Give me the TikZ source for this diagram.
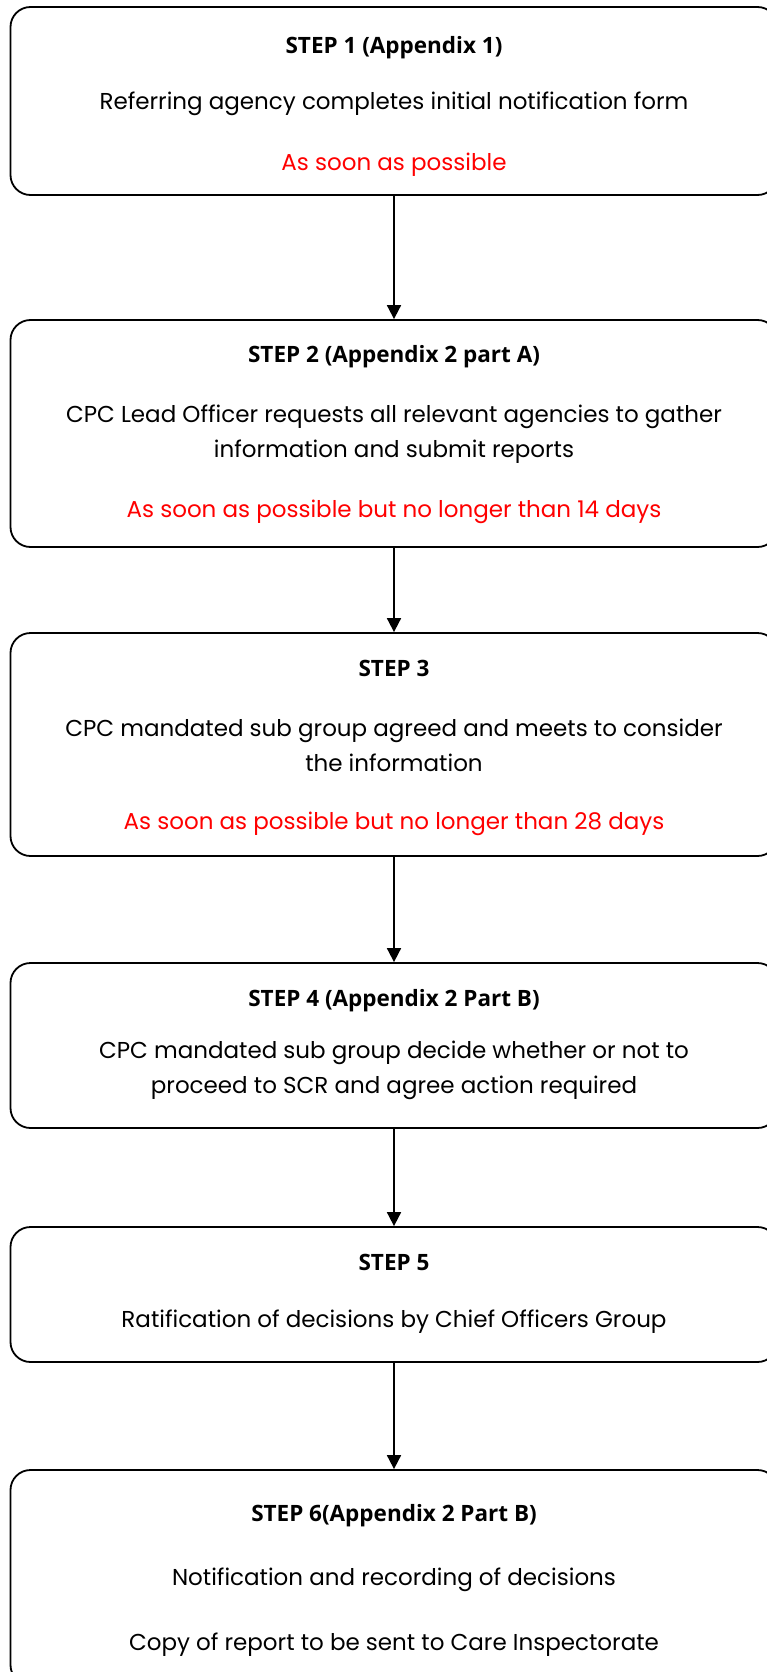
\documentclass[tikz,border=0pt]{standalone}
\usepackage{fontspec}
\setmainfont{Poppins}
\newfontfamily\titlefont{Open Sans}
\usetikzlibrary{arrows.meta}
\definecolor{redtxt}{RGB}{255,0,0}
\tikzset{
  stepbox/.style={draw=black, line width=1.8pt, rounded corners=20pt, inner sep=0pt, minimum width=767pt},
  ttl/.style={font=\titlefont\bfseries\fontsize{22.5}{27}\selectfont, inner sep=0pt, anchor=center},
  body/.style={font=\fontsize{23}{35}\selectfont, inner sep=0pt, align=center, anchor=center},
  due/.style={body, text=redtxt},
  flow/.style={line width=1.8pt, -{Triangle[length=14pt,width=14pt]}}
}
\begin{document}
\begin{tikzpicture}[x=1pt,y=-1pt]
\useasboundingbox (0,0) rectangle (767,1672);
% boxes
\node[stepbox, minimum height=188pt] (b1) at (394,101) {};
\node[stepbox, minimum height=227pt] (b2) at (394,433.5) {};
\node[stepbox, minimum height=223pt] (b3) at (394,744.5) {};
\node[stepbox, minimum height=165pt] (b4) at (394,1045.5) {};
\node[stepbox, minimum height=135pt] (b5) at (394,1294.5) {};
\node[stepbox, minimum height=215pt] (b6) at (394,1577.5) {};
% texts
\node[ttl] (t1) at (394,48) {STEP 1 (Appendix 1)};
\node[body] (x1) at (394,104) {Referring agency completes initial notification form};
\node[due] (r1) at (394,165) {As soon as possible};
\node[ttl] (t2) at (394,357) {STEP 2 (Appendix 2 part A)};
\node[body] (x2) at (394,434) {CPC Lead Officer requests all relevant agencies to gather\\information and submit reports};
\node[due] (r2) at (394,512) {As soon as possible but no longer than 14 days};
\node[ttl] (t3) at (394,668) {STEP 3};
\node[body] (x3) at (394,745) {CPC mandated sub group agreed and meets to consider\\the information};
\node[due] (r3) at (394,824) {As soon as possible but no longer than 28 days};
\node[ttl] (t4) at (394,1001) {STEP 4 (Appendix 2 Part B)};
\node[body] (x4) at (394,1070) {CPC mandated sub group decide whether or not to\\proceed to SCR and agree action required};
\node[ttl] (t5) at (394,1262) {STEP 5};
\node[body] (x5) at (394,1322) {Ratification of decisions by Chief Officers Group};
\node[ttl] (t6) at (394,1516) {STEP 6(Appendix 2 Part B)};
\node[body] (x6) at (394,1580) {Notification and recording of decisions};
\node[body] (y6) at (394,1645) {Copy of report to be sent to Care Inspectorate};
% connectors
\draw[flow] (b1.south) -- (b2.north);
\draw[flow] (b2.south) -- (b3.north);
\draw[flow] (b3.south) -- (b4.north);
\draw[flow] (b4.south) -- (b5.north);
\draw[flow] (b5.south) -- (b6.north);
\end{tikzpicture}
\end{document}
